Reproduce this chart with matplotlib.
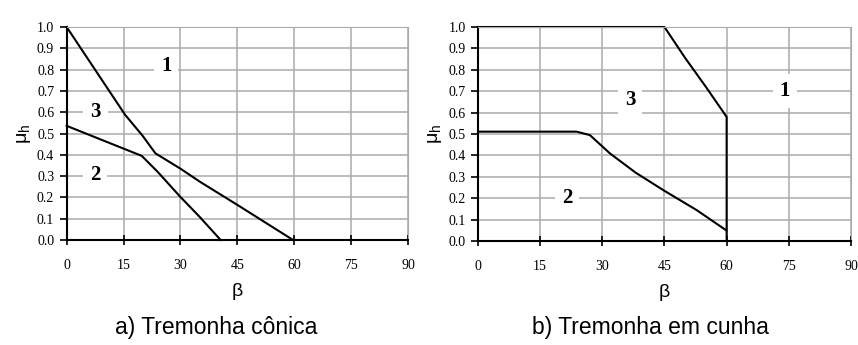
import matplotlib
matplotlib.use('Agg')
import matplotlib.pyplot as plt
import numpy as np

plt.rcParams['font.family'] = ['Liberation Serif']
plt.rcParams['mathtext.default'] = 'regular'

# a) Tremonha cônica
conic_b1 = [0, 15.4, 20, 23.4, 30, 35.1, 45, 59.7]
conic_m1 = [1.0, 0.588, 0.49, 0.407, 0.335, 0.274, 0.165, 0.0]
conic_b2 = [0, 19.8, 24, 29.9, 35, 40.6]
conic_m2 = [0.536, 0.395, 0.32, 0.204, 0.11, 0.0]

# b) Tremonha em cunha
wedge_b3 = [0, 45, 50, 55, 60, 60]
wedge_m3 = [1.0, 1.0, 0.855, 0.72, 0.58, 0.0]
wedge_b2 = [0, 23.8, 27, 31.8, 38, 44.7, 52.8, 59.9]
wedge_m2 = [0.511, 0.511, 0.495, 0.41, 0.32, 0.238, 0.144, 0.05]

xticks = [0, 15, 30, 45, 60, 75, 90]
yticks = np.round(np.arange(0, 1.01, 0.1), 1)

conic_labels = [('1', 26.3, 0.815), ('3', 7.6, 0.60), ('2', 7.5, 0.306)]
wedge_labels = [('3', 36.7, 0.66), ('1', 74, 0.70), ('2', 21.5, 0.20)]

fig = plt.figure(figsize=(8.58, 3.45), dpi=100)
ax1 = fig.add_axes([0.0777, 0.3043, 0.3978, 0.6174])
ax2 = fig.add_axes([0.5571, 0.3014, 0.4347, 0.6203])


def style(ax):
    ax.set_xlim(0, 90)
    ax.set_ylim(0, 1.0)
    ax.set_xticks(xticks)
    ax.set_yticks(yticks)
    ax.set_yticklabels(['%.1f' % v for v in yticks])
    ax.grid(True, color='#ababab', linewidth=1.1)
    ax.set_axisbelow(True)
    for s in ['top', 'right']:
        ax.spines[s].set_color('#ababab')
    for s in ['left', 'bottom']:
        ax.spines[s].set_color('black')
        ax.spines[s].set_linewidth(1.5)
    ax.tick_params(axis='y', direction='out', length=5, width=1.2, labelsize=10, pad=4)
    ax.tick_params(axis='x', direction='inout', length=7, width=1.2, labelsize=10, pad=10)
    ax.set_xlabel('β', family='Liberation Sans', fontsize=14, labelpad=8)
    ax.set_ylabel('μ$_h$', family='Liberation Sans', fontsize=14, labelpad=3)


style(ax1)
style(ax2)

ax1.plot(conic_b1, conic_m1, color='black', linewidth=1.5, clip_on=False)
ax1.plot(conic_b2, conic_m2, color='black', linewidth=1.5, clip_on=False)
ax2.plot(wedge_b3, wedge_m3, color='black', linewidth=1.5, clip_on=False)
ax2.plot(wedge_b2, wedge_m2, color='black', linewidth=1.5, clip_on=False)

for ax, labels in [(ax1, conic_labels), (ax2, wedge_labels)]:
    for t, x, y in labels:
        ax.text(x, y, t, ha='center', va='center', fontsize=15, fontweight='bold',
                bbox=dict(facecolor='white', edgecolor='none', pad=5))

fig.text(0.252, 0.05, 'a) Tremonha cônica', ha='center', va='center',
         family='Liberation Sans', fontsize=16.5)
fig.text(0.758, 0.05, 'b) Tremonha em cunha', ha='center', va='center',
         family='Liberation Sans', fontsize=16.5)

fig.savefig('out.png', dpi=100)
